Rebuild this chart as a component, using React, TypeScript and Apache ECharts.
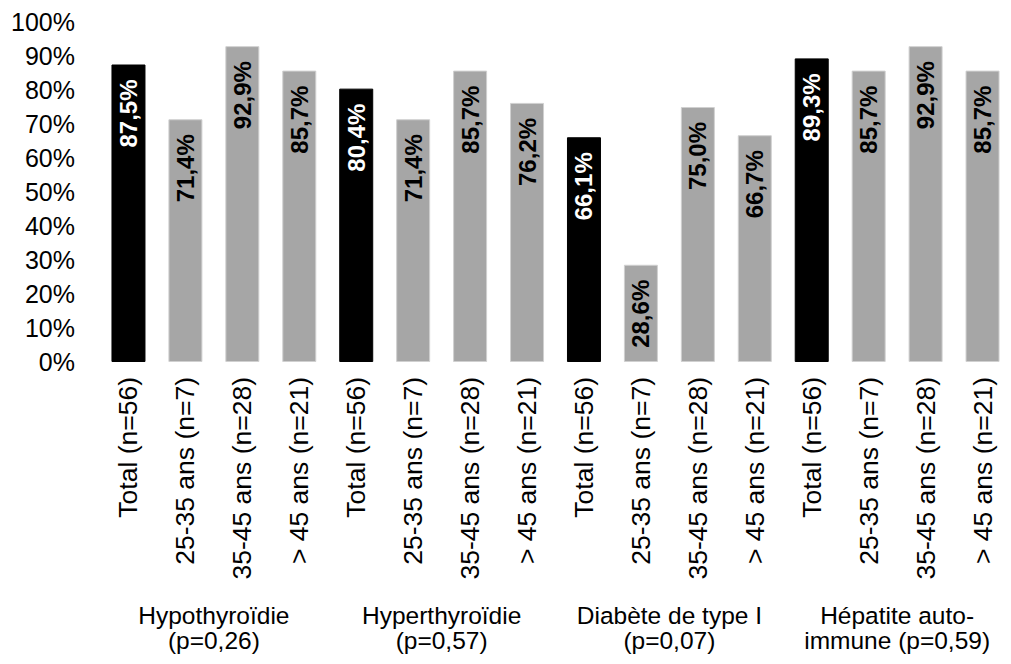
import React, { useEffect, useRef } from "react";
import * as echarts from "echarts";

const subgroups = ["Total (n=56)", "25-35 ans (n=7)", "35-45 ans (n=28)", "> 45 ans (n=21)"];
const groups = [
  "Hypothyroïdie\n(p=0,26)",
  "Hyperthyroïdie\n(p=0,57)",
  "Diabète de type I\n(p=0,07)",
  "Hépatite auto-\nimmune (p=0,59)",
];
const hypothyroidie = [87.5, 71.4, 92.9, 85.7];
const hyperthyroidie = [80.4, 71.4, 85.7, 76.2];
const diabete = [66.1, 28.6, 75.0, 66.7];
const hepatite = [89.3, 85.7, 92.9, 85.7];
const yTicks = [0, 10, 20, 30, 40, 50, 60, 70, 80, 90, 100];

const FONT = "'Liberation Sans', Arial, sans-serif";

export default function App() {
  const ref = useRef<HTMLDivElement>(null);
  useEffect(() => {
    if (!ref.current) return;
    const chart = echarts.init(ref.current, undefined, { renderer: "svg" });
    const allValues = [hypothyroidie, hyperthyroidie, diabete, hepatite];
    const categories: string[] = [];
    const data: any[] = [];
    allValues.forEach((vals) => {
      vals.forEach((v, i) => {
        categories.push(subgroups[i]);
        const isTotal = i === 0;
        data.push({
          value: v,
          itemStyle: {
            color: isTotal ? "#000000" : "#A6A6A6",
            borderColor: isTotal ? "#000000" : "#D0D0D0",
            borderWidth: 1,
          },
          label: { color: isTotal ? "#ffffff" : "#000000" },
        });
      });
    });
    chart.setOption({
      animation: false,
      textStyle: { fontFamily: FONT },
      grid: { left: 100, top: 22, width: 923, height: 340, containLabel: false },
      xAxis: [
        {
          type: "category",
          data: categories,
          position: "bottom",
          axisLine: { show: false },
          axisTick: { show: false },
          axisLabel: {
            rotate: 90,
            interval: 0,
            margin: 15,
            fontSize: 26.5,
            color: "#000",
            fontFamily: FONT,
          },
        },
        {
          type: "category",
          data: groups,
          position: "bottom",
          offset: 231,
          axisLine: { show: false },
          axisTick: { show: false },
          axisLabel: {
            interval: 0,
            margin: 10,
            fontSize: 24.5,
            lineHeight: 25,
            color: "#000",
            fontFamily: FONT,
            verticalAlign: "top",
          },
        },
      ],
      yAxis: {
        type: "value",
        min: yTicks[0],
        max: yTicks[yTicks.length - 1],
        interval: 10,
        splitLine: { show: false },
        axisLine: { show: false },
        axisTick: { show: false },
        axisLabel: {
          formatter: "{value}%",
          fontSize: 25,
          margin: 25,
          color: "#000",
          fontFamily: FONT,
        },
      },
      series: [
        {
          type: "bar",
          xAxisIndex: 0,
          data,
          barWidth: 34,
          label: {
            show: true,
            position: "insideTop",
            rotate: 90,
            align: "right",
            verticalAlign: "middle",
            distance: 15,
            fontSize: 24,
            fontWeight: "bold",
            fontFamily: FONT,
            formatter: (p: any) => p.value.toFixed(1).replace(".", ",") + "%",
          },
        },
      ],
    });
    return () => chart.dispose();
  }, []);
  return (
    <div
      ref={ref}
      style={{ position: "fixed", left: 0, top: 0, width: 1011, height: 664, background: "#fff" }}
    />
  );
}
